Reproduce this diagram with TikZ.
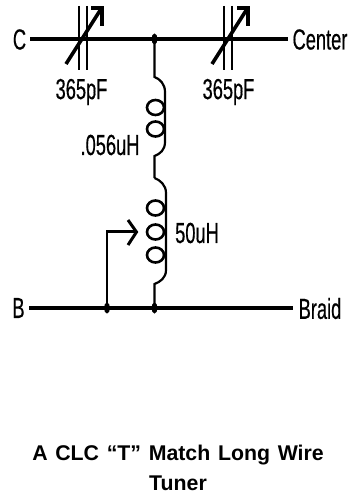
\documentclass[tikz,border=0pt]{standalone}
\usepackage{fontspec}
\setmainfont{Liberation Sans}
\newfontfamily\narrowfont[FakeStretch=0.63,FakeBold=0.4]{Liberation Sans}
\newfontfamily\titlefont[WordSpace=1.3]{Liberation Sans}
\usetikzlibrary{shapes.geometric}
\tikzset{
    wire/.style={line width=3.2pt},
    thin wire/.style={line width=2.2pt},
    tune/.style={line width=3.6pt},
    dot/.style={ellipse, fill=black, inner sep=0pt, minimum width=6pt, minimum height=11pt},
    part/.style={font=\narrowfont\fontsize{29}{29}\selectfont, inner sep=0pt, text=black},
    coilloop/.style={ellipse, draw, line width=2.6pt, inner sep=0pt, minimum width=17pt, minimum height=15pt}
}
\begin{document}
\begin{tikzpicture}[x=1pt,y=-1pt]
    \useasboundingbox (0,0) rectangle (350,495);
    % labels
    \node[part] (c) at (19.5,39.5) {C};
    \node[part] (center) at (320,39.5) {Center};
    \node[part] (b) at (18.5,308) {B};
    \node[part] (braid) at (320,308.5) {Braid};
    \node[part] (cone) at (81.5,92) {365pF};
    \node[part] (ctwo) at (228.5,92) {365pF};
    \node[part] (lone) at (110,145) {.056uH};
    \node[part] (ltwo) at (197,233) {50uH};
    % wires
    \node[dot] (top) at (154.5,39) {};
    \node[dot] (bot) at (154.5,308) {};
    \node[dot] (tap) at (107,308) {};
    \draw[wire, shorten >=4pt] (30,39) -- (top.center) -- (center.west |- top.center);
    \draw[wire, shorten >=5pt] (29,308) -- (tap.center) -- (bot.center) -- (braid.west |- bot.center);
    % capacitors
    \draw[thin wire] (79,6) -- (79,70);
    \draw[thin wire] (87,6) -- (87,70);
    \draw[tune] (66,64) -- (101,9);
    \draw[tune] (91,8) -- (102,8) -- (102,26);
    \draw[thin wire] (224,6) -- (224,70);
    \draw[thin wire] (232,6) -- (232,70);
    \draw[tune] (212,64) -- (247,9);
    \draw[tune] (237,8) -- (248,8) -- (248,26);
    % upper coil
    \node[coilloop] (la) at (155.5,107.5) {};
    \node[coilloop] (lb) at (155.5,129) {};
    \draw[thin wire] (top.center) -- (154.5,77) .. controls (160,79) and (165,84) .. (165,92) -- (165,142) .. controls (165,150) and (160,154) .. (154.5,156) -- (154.5,178);
    % lower coil
    \node[coilloop] (lc) at (155.5,208) {};
    \node[coilloop] (ld) at (155.5,232) {};
    \node[coilloop] (le) at (155.5,255) {};
    \draw[thin wire] (154.5,178) .. controls (160,180) and (166,185) .. (166,193) -- (166,270) .. controls (166,278) and (160,282) .. (154.5,284) -- (bot.center);
    % tap
    \draw[line width=2.6pt] (tap.center) -- (107,231.5) -- (136,231.5);
    \draw[line width=3pt] (128,220) -- (136.5,232) -- (128,245);
    % title
    \node[font=\titlefont\bfseries\fontsize{21.3}{30}\selectfont, align=center, inner sep=0pt, text=black] (title) at (178,468) {A CLC “T” Match Long Wire\\Tuner};
\end{tikzpicture}
\end{document}
